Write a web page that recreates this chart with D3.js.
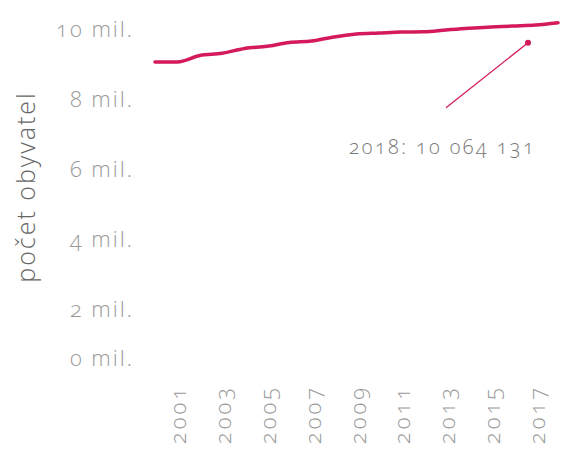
<!DOCTYPE html>
<html>
<head>
<meta charset="utf-8">
<script src="https://cdn.jsdelivr.net/npm/d3@7"></script>
<style>
  html, body { margin: 0; padding: 0; background: #fff; }
  svg text { font-family: "Open Sans", "Lato", sans-serif; font-weight: 300; font-variant-numeric: oldstyle-nums; font-feature-settings: "onum" 1; }
</style>
</head>
<body>
<svg id="chart" width="563" height="450"></svg>
<script>
// ---- data ----
const years = [2000, 2001, 2002, 2003, 2004, 2005, 2006, 2007, 2008, 2009, 2010, 2011, 2012, 2013, 2014, 2015, 2016, 2017, 2018];
const population = [8940000, 8945000, 9130000, 9190000, 9330000, 9390000, 9500000, 9540000, 9660000, 9740000, 9770000, 9800000, 9805000, 9860000, 9910000, 9940000, 9970000, 10000000, 10064131];
const yTickValues = [0, 2000000, 4000000, 6000000, 8000000, 10000000];
const yTickLabels = ["0 mil.", "2 mil.", "4 mil.", "6 mil.", "8 mil.", "10 mil."];
const xTickValues = [2001, 2003, 2005, 2007, 2009, 2011, 2013, 2015, 2017];
const yAxisTitle = "počet obyvatel";
const annotationYear = 2018;
const annotationText = "2018: 10 064 131";

// ---- chart ----
const svg = d3.select("#chart");
const lineColor = "#d41a5c";

const x = d3.scaleLinear().domain([2000, 2018]).range([155, 558]);
const y = d3.scaleLinear().domain([0, 2000000, 10000000]).range([354, 305, 25]);

// y axis tick labels
svg.append("g").selectAll("text")
  .data(yTickValues)
  .join("text")
  .attr("x", 134)
  .attr("y", d => y(d) + 3)
  .attr("text-anchor", "end")
  .attr("dominant-baseline", "central")
  .attr("font-size", 22)
  .attr("letter-spacing", 2)
  .attr("fill", "#9a9a9a")
  .text((d, i) => yTickLabels[i]);

// y axis title
svg.append("text")
  .attr("transform", `translate(25, 187) rotate(-90)`)
  .attr("text-anchor", "middle")
  .attr("dominant-baseline", "central")
  .attr("font-size", 25)
  .attr("letter-spacing", 2)
  .attr("fill", "#666")
  .text(yAxisTitle);

// x axis tick labels
svg.append("g").selectAll("text")
  .data(xTickValues)
  .join("text")
  .attr("transform", d => `translate(${x(d)}, 385) rotate(-90)`)
  .attr("text-anchor", "end")
  .attr("dominant-baseline", "central")
  .attr("font-size", 22)
  .attr("letter-spacing", 3)
  .attr("fill", "#9a9a9a")
  .text(d => d);

// line
const line = d3.line()
  .x((d, i) => x(years[i]))
  .y(d => y(d))
  .curve(d3.curveMonotoneX);

svg.append("path")
  .datum(population)
  .attr("d", line)
  .attr("fill", "none")
  .attr("stroke", lineColor)
  .attr("stroke-width", 3.5)
  .attr("stroke-linecap", "round");

// annotation
const ai = years.indexOf(annotationYear);
const ax = x(annotationYear) - 30;
const ay = y(population[ai]) + 20;
svg.append("line")
  .attr("x1", ax).attr("y1", ay)
  .attr("x2", ax - 82).attr("y2", ay + 65)
  .attr("stroke", lineColor)
  .attr("stroke-width", 1.3);
svg.append("circle")
  .attr("cx", ax).attr("cy", ay)
  .attr("r", 3)
  .attr("fill", lineColor);
svg.append("text")
  .attr("x", ax + 8)
  .attr("y", ay + 104)
  .attr("text-anchor", "end")
  .attr("dominant-baseline", "central")
  .attr("font-size", 20)
  .attr("letter-spacing", 2.4)
  .attr("fill", "#777")
  .text(annotationText);
</script>
</body>
</html>
